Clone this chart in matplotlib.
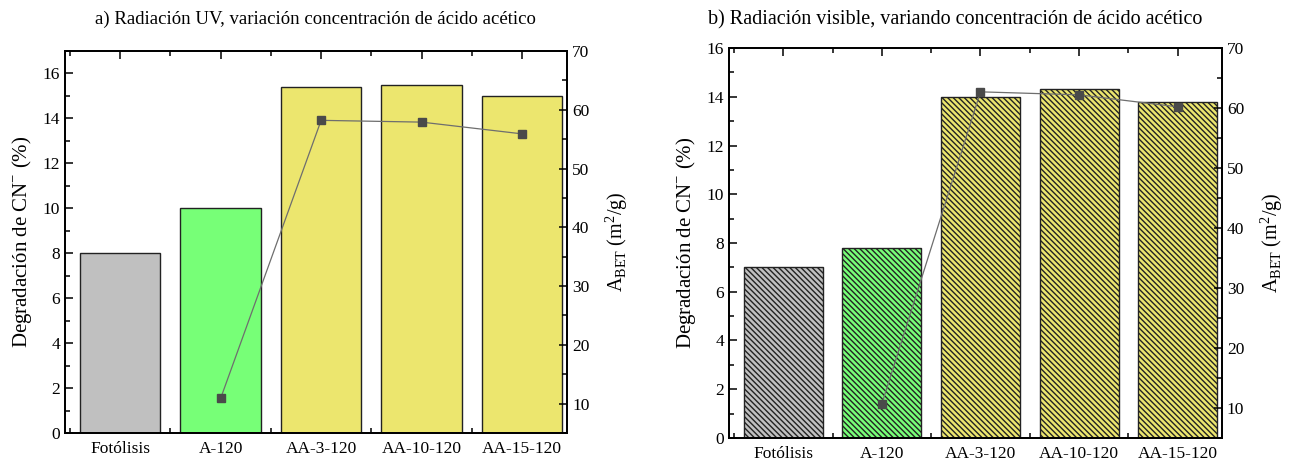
import matplotlib
matplotlib.use("Agg")
import matplotlib.pyplot as plt
from matplotlib.ticker import MultipleLocator, FixedLocator

plt.rcParams['font.family'] = ['Liberation Serif', 'DejaVu Serif']
plt.rcParams['hatch.linewidth'] = 1.0
plt.rcParams['hatch.color'] = '#111111'

categories = ["Fotólisis", "A-120", "AA-3-120", "AA-10-120", "AA-15-120"]
bar_colors = ["#c0c0c0", "#77ff77", "#ece66e", "#ece66e", "#ece66e"]

# Degradation of CN- (%)
deg_uv = [8.0, 10.0, 15.4, 15.5, 15.0]
deg_vis = [7.0, 7.8, 14.0, 14.3, 13.8]

# BET surface area (m2/g) for the catalysts
abet_cats = ["A-120", "AA-3-120", "AA-10-120", "AA-15-120"]
abet_uv = [10.9, 58.2, 57.9, 55.9]
abet_vis = [10.7, 62.7, 62.2, 60.2]

fig = plt.figure(figsize=(13.07, 4.62), dpi=100)


def panel(rect, deg, abet, ylim, hatch, title, title_x, title_size):
    ax = fig.add_axes(rect)
    x = list(range(len(categories)))
    ax.bar(x, deg, width=0.8, color=bar_colors, edgecolor='#222222',
           linewidth=1.0, hatch=hatch, zorder=2)
    ax.set_xlim(-0.55, 4.45)
    ax.set_ylim(*ylim)
    ax.set_xticks(x)
    ax.set_xticklabels(categories)
    ax.xaxis.set_minor_locator(FixedLocator([i + 0.5 for i in range(-1, 5)]))
    ax.yaxis.set_major_locator(MultipleLocator(2))
    ax.yaxis.set_minor_locator(MultipleLocator(1))
    ax.tick_params(axis='both', which='both', direction='in', top=True,
                   right=False, labelsize=12.5)
    ax.tick_params(axis='x', pad=6)
    ax.tick_params(which='major', length=6, width=1.1)
    ax.tick_params(which='minor', length=3.5, width=1.1)
    ax.set_ylabel("Degradación de CN$^{\\mathregular{-}}$ (%)", fontsize=15,
                  labelpad=6)
    for s in ax.spines.values():
        s.set_linewidth(1.3)

    ax2 = ax.twinx()
    xa = [categories.index(c) for c in abet_cats]
    ax2.plot(xa, abet, color='#6e6e6e', linewidth=0.9, marker='s',
             markersize=6, markerfacecolor='#4a4a4a',
             markeredgecolor='#4a4a4a', zorder=3)
    ax2.set_ylim(5, 70)
    ax2.yaxis.set_major_locator(MultipleLocator(10))
    ax2.yaxis.set_minor_locator(MultipleLocator(5))
    ax2.tick_params(axis='y', which='both', direction='in', labelsize=12.5)
    ax2.tick_params(which='major', length=6, width=1.1)
    ax2.tick_params(which='minor', length=3.5, width=1.1)
    ax2.set_ylabel("A$_{\\mathregular{BET}}$ (m$^{\\mathregular{2}}$/g)",
                   fontsize=14.5, labelpad=10)
    for s in ax2.spines.values():
        s.set_linewidth(1.3)
    fig.text(title_x, 0.958, title, ha='center', va='center',
             fontsize=title_size)
    return ax, ax2


panel([0.0497, 0.0628, 0.3843, 0.8268], deg_uv, abet_uv, (0, 17), None,
      "a) Radiación UV, variación concentración de ácido acético", 0.241,
      13.5)
panel([0.5578, 0.052, 0.3772, 0.844], deg_vis, abet_vis, (0, 16),
      '\\\\\\\\\\\\',
      "b) Radiación visible, variando concentración de ácido acético", 0.731,
      14.5)

fig.savefig("out.png", dpi=100)
